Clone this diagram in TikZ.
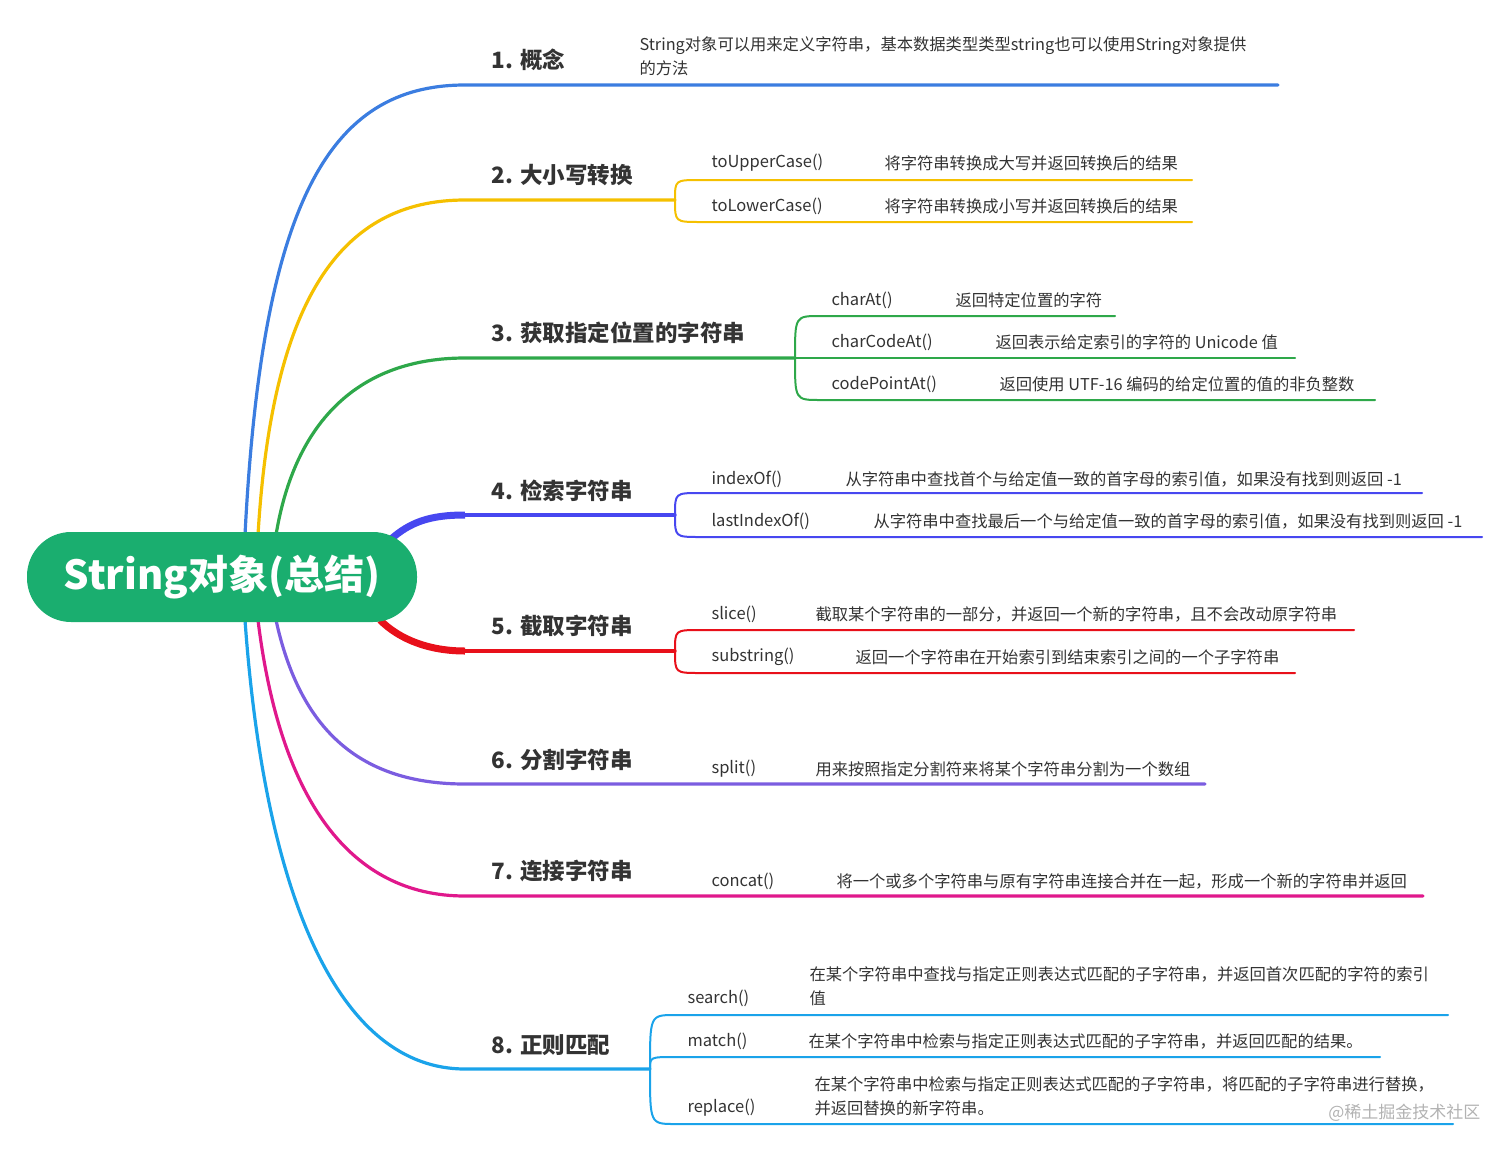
\documentclass[tikz,border=0pt]{standalone}
\usepackage{fontspec}
\setmainfont{Noto Sans CJK SC}
\usetikzlibrary{positioning, calc}
\definecolor{root-green}{HTML}{1AAE6F}
\definecolor{c1}{HTML}{3B7DE0}
\definecolor{c2}{HTML}{F5C000}
\definecolor{c3}{HTML}{2EA84A}
\definecolor{c4}{HTML}{4747F0}
\definecolor{c5}{HTML}{E8101A}
\definecolor{c6}{HTML}{7B5DE0}
\definecolor{c7}{HTML}{E0188C}
\definecolor{c8}{HTML}{1AA3EA}
\definecolor{txt}{HTML}{333333}
\tikzset{
  topic/.style={anchor=west, font=\fontsize{22.5}{26}\selectfont\bfseries, text=txt},
  item/.style={anchor=west, font=\fontsize{16.5}{20}\selectfont, text=txt},
  info/.style={anchor=west, font=\fontsize{16.3}{24}\selectfont, text=txt, align=left},
  main/.style={line width=3.2pt, line cap=round},
  sub/.style={line width=2pt, line cap=round}
}
\newcommand{\sublink}[4]{% color, fork, level, end
  \draw[sub, #1] (#2) .. controls ($(#2)!1!(#2|-#3)$) .. ($(#3)+(25,0)$) -- (#4);}
\begin{document}
\begin{tikzpicture}[x=1pt, y=-1pt]
\useasboundingbox (0,0) rectangle (1512,1154);
% branches from root
\draw[main, c1] (245,535) .. controls (262,200) and (330,85) .. (465,85) coordinate (f1) -- (1278,85) coordinate (e1);
\draw[main, c2] (258,535) .. controls (272,300) and (340,200) .. (465,200) -- (675,200) coordinate (f2);
\draw[main, c3] (276,535) .. controls (295,420) and (360,358) .. (465,358) -- (795,358) coordinate (f3);
\draw[line width=7pt, c4] (390,540) .. controls (410,522) and (430,515) .. (465,515);
\draw[main, c4] (465,515) -- (675,515) coordinate (f4);
\draw[line width=7pt, c5] (380,620) .. controls (400,640) and (430,651) .. (465,651);
\draw[main, c5] (465,651) -- (675,651) coordinate (f5);
\draw[main, c6] (276,620) .. controls (300,730) and (360,784) .. (465,784) -- (1205,784) coordinate (e6);
\draw[main, c7] (258,620) .. controls (280,800) and (350,896) .. (465,896) -- (1423,896) coordinate (e7);
\draw[main, c8] (245,620) .. controls (265,900) and (340,1069) .. (465,1069) -- (650,1069) coordinate (f8);
% root
\node[fill=root-green, rounded corners=44pt, minimum width=390pt, minimum height=90pt,
  text=white, font=\fontsize{40}{46}\selectfont\bfseries] (root) at (222,577) {String对象(总结)};
% sub branches
\coordinate (l2a) at (675,180); \coordinate (l2b) at (675,222);
\sublink{c2}{f2}{l2a}{1192,180} \sublink{c2}{f2}{l2b}{1192,222}
\coordinate (l3a) at (795,316); \coordinate (l3b) at (795,358); \coordinate (l3c) at (795,400);
\sublink{c3}{f3}{l3a}{1115,316} \draw[sub, c3] (f3) -- (1295,358); \sublink{c3}{f3}{l3c}{1375,400}
\coordinate (l4a) at (675,493); \coordinate (l4b) at (675,537);
\sublink{c4}{f4}{l4a}{1422,493} \sublink{c4}{f4}{l4b}{1482,537}
\coordinate (l5a) at (675,630); \coordinate (l5b) at (675,673);
\sublink{c5}{f5}{l5a}{1354,630} \sublink{c5}{f5}{l5b}{1295,673}
\coordinate (l8a) at (650,1015); \coordinate (l8b) at (650,1057); \coordinate (l8c) at (650,1124);
\sublink{c8}{f8}{l8a}{1448,1015} \sublink{c8}{f8}{l8b}{1380,1057} \sublink{c8}{f8}{l8c}{1453,1124}
% topics
\node[topic] (t1) at (488,60) {1. 概念};
\node[topic] (t2) at (488,175) {2. 大小写转换};
\node[topic] (t3) at (488,333) {3. 获取指定位置的字符串};
\node[topic] (t4) at (488,491) {4. 检索字符串};
\node[topic] (t5) at (488,626) {5. 截取字符串};
\node[topic] (t6) at (488,760) {6. 分割字符串};
\node[topic] (t7) at (488,871) {7. 连接字符串};
\node[topic] (t8) at (488,1045) {8. 正则匹配};
% items and texts
\node[info] (d1) at (636,56) {String对象可以用来定义字符串，基本数据类型类型string也可以使用String对象提供\\的方法};
\node[item] (i21) at (708,163) {toUpperCase()};
\node[info] (d21) at (881,163) {将字符串转换成大写并返回转换后的结果};
\node[item] (i22) at (708,206) {toLowerCase()};
\node[info] (d22) at (881,206) {将字符串转换成小写并返回转换后的结果};
\node[item] (i31) at (828,300) {charAt()};
\node[info] (d31) at (952,300) {返回特定位置的字符};
\node[item] (i32) at (828,342) {charCodeAt()};
\node[info] (d32) at (992,342) {返回表示给定索引的字符的 Unicode 值};
\node[item] (i33) at (828,384) {codePointAt()};
\node[info] (d33) at (996,384) {返回使用 UTF-16 编码的给定位置的值的非负整数};
\node[item] (i41) at (708,479) {indexOf()};
\node[info] (d41) at (842,479) {从字符串中查找首个与给定值一致的首字母的索引值，如果没有找到则返回 -1};
\node[item] (i42) at (708,521) {lastIndexOf()};
\node[info] (d42) at (870,521) {从字符串中查找最后一个与给定值一致的首字母的索引值，如果没有找到则返回 -1};
\node[item] (i51) at (708,614) {slice()};
\node[info] (d51) at (812,614) {截取某个字符串的一部分，并返回一个新的字符串，且不会改动原字符串};
\node[item] (i52) at (708,657) {substring()};
\node[info] (d52) at (852,657) {返回一个字符串在开始索引到结束索引之间的一个子字符串};
\node[item] (i61) at (708,769) {split()};
\node[info] (d61) at (812,769) {用来按照指定分割符来将某个字符串分割为一个数组};
\node[item] (i71) at (708,881) {concat()};
\node[info] (d71) at (833,881) {将一个或多个字符串与原有字符串连接合并在一起，形成一个新的字符串并返回};
\node[item] (i81) at (684,998) {search()};
\node[info] (d81) at (806,986) {在某个字符串中查找与指定正则表达式匹配的子字符串，并返回首次匹配的字符的索引\\值};
\node[item] (i82) at (684,1041) {match()};
\node[info] (d82) at (805,1041) {在某个字符串中检索与指定正则表达式匹配的子字符串，并返回匹配的结果。};
\node[item] (i83) at (684,1108) {replace()};
\node[info] (d83) at (811,1096) {在某个字符串中检索与指定正则表达式匹配的子字符串，将匹配的子字符串进行替换，\\并返回替换的新字符串。};
\node[anchor=east, text=gray!60, font=\fontsize{17}{20}\selectfont] (wm) at (1484,1113) {@稀土掘金技术社区};
\end{tikzpicture}
\end{document}
